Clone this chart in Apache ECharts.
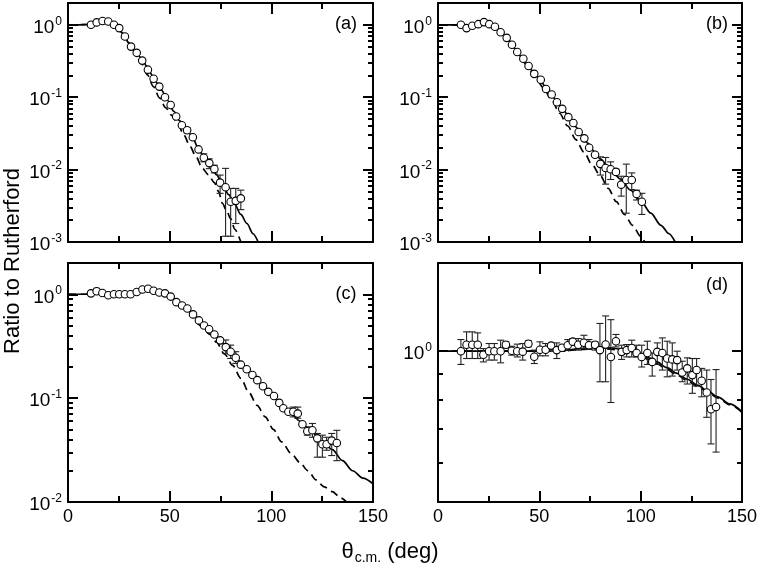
<!DOCTYPE html>
<html>
<head>
<meta charset="utf-8">
<script src="https://cdn.jsdelivr.net/npm/echarts@6/dist/echarts.min.js"></script>
<style>
html, body { margin: 0; padding: 0; background: #fff; }
#chart { width: 763px; height: 573px; }
</style>
</head>
<body>
<div id="chart"></div>
<script>
// panel (a)
var thetaA = [11.3,14.1,17.0,19.8,22.6,25.2,28.0,31.0,33.8,36.5,39.3,42.1,44.9,47.7,50.5,53.2,56.0,58.6,61.4,64.2,66.8,69.5,72.0,74.8,77.5,80.0,82.5,85.0];
var ratioA = [1.0,1.08,1.13,1.11,1.0,0.90,0.69,0.50,0.41,0.32,0.24,0.18,0.14,0.10,0.078,0.054,0.041,0.035,0.028,0.019,0.0146,0.0123,0.0102,0.0066,0.0057,0.0036,0.0037,0.0040];
var errThetaA = [58.6,66.8,69.5,72.0,74.8,77.5,80.0,82.5,85.0];
var errLoA = [0.032,0.0128,0.0103,0.009,0.0047,0.0012,0.0012,0.0018,0.0028];
var errHiA = [0.038,0.0165,0.0141,0.0115,0.0084,0.0104,0.0055,0.0055,0.0052];
var solidThetaA = [0,5,10,13,16,18,20,22,24,27,30,34,37,40,43,46,49,52,55,58,61,64,67,70,73,76,79,82,85,88,91,93.5];
var solidA = [1.0,1.0,1.01,1.06,1.12,1.14,1.12,1.06,0.96,0.76,0.56,0.40,0.31,0.225,0.165,0.125,0.09,0.064,0.047,0.037,0.029,0.02,0.0148,0.0115,0.0085,0.0062,0.0045,0.0033,0.0024,0.0018,0.0013,0.001];
var dashedThetaA = [0,5,10,13,16,18,20,22,24,27,30,33,36,39,42,45,48,51,54,57,60,63,66,69,72,74,76,78,80,82,85];
var dashedA = [1.0,1.0,1.01,1.06,1.12,1.14,1.12,1.06,0.96,0.76,0.56,0.42,0.30,0.205,0.14,0.098,0.072,0.056,0.043,0.03,0.021,0.015,0.0105,0.0085,0.0066,0.005,0.0034,0.0027,0.0021,0.0015,0.001];

// panel (b)
var thetaB = [11.3,14.1,16.9,19.9,22.7,25.3,28.1,30.9,33.9,36.5,39.1,42.1,44.7,47.5,50.7,53.3,56.1,58.7,61.3,64.3,66.8,69.4,72.2,74.6,77.5,80.1,82.7,85.2,87.8,90.4,92.9,95.6,98.0,100.6];
var ratioB = [1.0,0.90,0.97,1.02,1.09,1.02,0.94,0.79,0.66,0.53,0.42,0.34,0.27,0.21,0.174,0.13,0.109,0.085,0.069,0.053,0.044,0.033,0.027,0.020,0.016,0.012,0.0105,0.0101,0.0093,0.0062,0.0072,0.0072,0.0046,0.0036];
var errThetaB = [80.1,82.7,85.2,87.8,90.4,92.9,95.6,98.0,100.6];
var errLoB = [0.0084,0.0063,0.0073,0.0086,0.0043,0.0025,0.0053,0.0038,0.0024];
var errHiB = [0.015,0.0147,0.0128,0.0101,0.0081,0.0119,0.009,0.0052,0.0047];
var solidThetaB = [0,8,11,14,17,20,23,26,29,32,35,38,41,44,47,50,53,56,59,62,65,68,71,74,77,80,85,90,95,100,105,110,114,117];
var solidB = [1.0,1.0,0.98,0.92,0.96,1.03,1.09,1.01,0.9,0.74,0.61,0.47,0.36,0.29,0.225,0.18,0.14,0.108,0.084,0.066,0.051,0.039,0.030,0.023,0.0178,0.0141,0.0102,0.0074,0.0052,0.0037,0.0025,0.0017,0.0013,0.001];
var dashedThetaB = [0,8,11,14,17,20,23,26,29,32,34,37,40,44,48,52,56,60,64,68,72,76,80,84,88,92,96,100,102];
var dashedB = [1.0,1.0,0.98,0.92,0.96,1.03,1.09,1.01,0.9,0.74,0.66,0.51,0.385,0.27,0.19,0.135,0.092,0.06,0.04,0.026,0.0175,0.0117,0.0083,0.0055,0.0036,0.0024,0.0017,0.0012,0.001];

// panel (c)
var thetaC = [11.3,14.1,16.9,19.8,22.6,25.2,28.0,30.8,33.8,36.6,39.4,42.1,44.9,47.7,50.5,53.3,56.1,58.7,61.5,64.4,66.9,69.4,72.0,74.8,77.6,80.0,82.5,85.0,87.9,90.7,93.1,95.9,98.5,101.3,103.9,105.9,108.4,110.8,113.0,115.3,117.7,120.2,122.6,125.1,127.2,129.7,132.2];
var ratioC = [1.02,1.07,1.03,0.98,1.0,1.0,1.0,1.0,1.05,1.11,1.13,1.08,1.04,1.02,0.95,0.84,0.78,0.73,0.64,0.56,0.50,0.46,0.41,0.36,0.31,0.28,0.245,0.21,0.19,0.167,0.149,0.13,0.115,0.105,0.09,0.08,0.074,0.074,0.071,0.056,0.048,0.049,0.041,0.036,0.036,0.039,0.037];
var errThetaC = [14.1,16.9,77.6,80.0,82.5,110.8,113.0,117.7,120.2,122.6,125.1,127.2,129.7,132.2];
var errLoC = [1.0,0.99,0.27,0.241,0.216,0.066,0.064,0.044,0.042,0.027,0.027,0.0315,0.028,0.025];
var errHiC = [1.14,1.08,0.363,0.324,0.28,0.082,0.082,0.053,0.057,0.0457,0.044,0.042,0.0457,0.049];
var solidThetaC = [0,10,13,16,19,22,26,30,33,36,39,42,45,48,51,54,57,60,63,66,69,72,75,78,81,84,87,90,93,96,99,102,105,108,111,114,117,120,125,130,135,140,145,150];
var solidC = [1.0,1.0,1.02,1.03,1.0,0.99,1.0,1.0,1.03,1.1,1.13,1.09,1.04,1.0,0.94,0.85,0.76,0.68,0.6,0.53,0.465,0.41,0.355,0.31,0.265,0.228,0.197,0.17,0.148,0.128,0.112,0.098,0.086,0.076,0.067,0.06,0.053,0.047,0.038,0.032,0.025,0.02,0.017,0.015];
var dashedThetaC = [0,10,13,16,19,22,26,30,33,36,39,42,45,48,51,54,57,60,65,70,73,77,81,85,89,93,97,101,105,110,114,118,122,126,130,134,137];
var dashedC = [1.0,1.0,1.02,1.03,1.0,0.99,1.0,1.0,1.03,1.1,1.13,1.09,1.04,1.0,0.94,0.85,0.76,0.66,0.50,0.41,0.345,0.265,0.207,0.155,0.113,0.085,0.066,0.05,0.038,0.029,0.024,0.020,0.0163,0.014,0.0126,0.011,0.01];

// panel (d)
var thetaD = [11.3,14.1,16.9,19.6,22.4,25.2,27.8,30.9,33.5,36.4,39.1,41.8,44.6,47.5,50.3,53.1,55.8,58.6,61.2,64.0,66.5,69.2,72.0,74.5,77.5,79.9,82.7,85.3,87.8,90.6,93.1,95.6,98.0,100.5,103.3,105.7,108.2,110.7,113.1,115.6,118.0,120.5,123.0,125.5,127.6,130.1,132.6,134.7,137.2];
var ratioD = [1.0,1.03,1.03,1.03,0.984,1.0,1.0,1.0,1.03,1.002,1.0,0.998,1.035,0.975,1.007,1.007,1.026,1.005,1.016,1.028,1.045,1.03,1.04,1.028,1.03,1.005,1.031,0.974,1.047,0.997,1.005,1.015,0.992,0.974,0.992,0.952,0.997,0.992,0.967,0.963,0.96,0.907,0.924,0.896,0.917,0.873,0.827,0.766,0.774];
var errLoD = [0.941,0.967,0.967,0.967,0.952,0.96,0.96,0.948,1.017,0.982,0.974,0.96,1.02,0.945,0.979,0.979,1.012,0.967,0.999,1.005,1.028,1.005,1.012,1.008,1.005,0.869,0.869,0.79,1.02,0.963,0.974,0.974,0.974,0.93,0.941,0.892,0.941,0.917,0.889,0.892,0.917,0.869,0.86,0.824,0.852,0.811,0.738,0.653,0.629];
var errHiD = [1.055,1.093,1.093,1.088,1.012,1.036,1.036,1.052,1.044,1.023,1.033,1.036,1.049,1.005,1.044,1.036,1.036,1.039,1.028,1.055,1.06,1.06,1.076,1.055,1.044,1.136,1.176,1.156,1.08,1.028,1.031,1.052,1.028,1.028,1.047,0.992,1.039,1.063,1.047,1.039,1.0,0.955,0.97,0.967,0.967,0.924,0.917,0.878,0.919];
var solidThetaD = [0,20,40,55,62,70,78,85,90,95,100,104,108,113,118,123,128,133,138,144,150];
var solidD = [1.0,1.0,1.0,1.0,1.004,1.012,1.016,1.015,1.01,1.0,0.985,0.97,0.952,0.927,0.903,0.879,0.856,0.833,0.811,0.785,0.757];
var dashedD = [1.0,1.0,1.0,1.0,1.002,1.008,1.012,1.01,1.004,0.993,0.978,0.962,0.944,0.92,0.896,0.873,0.85,0.828,0.807,0.782,0.755];

// axis ranges and labelled decades
var yRangeA = [0.001, 2], yRangeB = [0.001, 2], yRangeC = [0.01, 2], yRangeD = [0.5, 1.5];
var decadesA = [0.001, 0.01, 0.1, 1];
var decadesB = [0.001, 0.01, 0.1, 1];
var decadesC = [0.01, 0.1, 1];
var decadesD = [1];
var thetaRange = [0, 150];

var FONT = '"Liberation Sans", Arial, Helvetica, sans-serif';

function lg(v) { return Math.log10(v); }
function pairs(xs, ys) { return xs.map(function (x, i) { return [x, lg(ys[i])]; }); }
function triples(xs, lo, hi) { return xs.map(function (x, i) { return [x, lg(lo[i]), lg(hi[i])]; }); }
function minorTicks(range) {
    var lo = lg(range[0]), hi = lg(range[1]), out = [];
    for (var e = Math.floor(lo); e <= Math.floor(hi); e++) {
        for (var k = 2; k <= 9; k++) {
            var v = e + lg(k);
            if (v > lo + 1e-9 && v < hi - 1e-9) out.push(v);
        }
    }
    return out;
}

var panels = [
    { tag: '(a)', left: 68,  top: 3,   width: 305, height: 239, xLabels: false, tagPos: [346, 24],
      yRange: yRangeA, decades: decadesA, theta: thetaA, ratio: ratioA,
      errTheta: errThetaA, errLo: errLoA, errHi: errHiA,
      solidTheta: solidThetaA, solid: solidA, dashedTheta: dashedThetaA, dashed: dashedA },
    { tag: '(b)', left: 438, top: 3,   width: 304, height: 239, xLabels: false, tagPos: [717, 24],
      yRange: yRangeB, decades: decadesB, theta: thetaB, ratio: ratioB,
      errTheta: errThetaB, errLo: errLoB, errHi: errHiB,
      solidTheta: solidThetaB, solid: solidB, dashedTheta: dashedThetaB, dashed: dashedB },
    { tag: '(c)', left: 68,  top: 263, width: 305, height: 239, xLabels: true, tagPos: [346, 294],
      yRange: yRangeC, decades: decadesC, theta: thetaC, ratio: ratioC,
      errTheta: errThetaC, errLo: errLoC, errHi: errHiC,
      solidTheta: solidThetaC, solid: solidC, dashedTheta: dashedThetaC, dashed: dashedC },
    { tag: '(d)', left: 438, top: 263, width: 304, height: 239, xLabels: true, tagPos: [717, 285],
      yRange: yRangeD, decades: decadesD, theta: thetaD, ratio: ratioD,
      errTheta: thetaD, errLo: errLoD, errHi: errHiD,
      solidTheta: solidThetaD, solid: solidD, dashedTheta: solidThetaD, dashed: dashedD }
];

var black = '#000';
var grids = [], xAxes = [], yAxes = [], series = [], graphics = [];

function errorBar(params, api) {
    var x = api.value(0);
    var p1 = api.coord([x, api.value(1)]);
    var p2 = api.coord([x, api.value(2)]);
    var cap = 3.5;
    var st = { stroke: '#222', lineWidth: 1.1 };
    return {
        type: 'group',
        children: [
            { type: 'line', shape: { x1: p1[0], y1: p1[1], x2: p2[0], y2: p2[1] }, style: st },
            { type: 'line', shape: { x1: p1[0] - cap, y1: p1[1], x2: p1[0] + cap, y2: p1[1] }, style: st },
            { type: 'line', shape: { x1: p2[0] - cap, y1: p2[1], x2: p2[0] + cap, y2: p2[1] }, style: st }
        ]
    };
}

panels.forEach(function (p, i) {
    grids.push({ left: p.left, top: p.top, width: p.width, height: p.height, show: false, outerBoundsMode: 'none' });

    ['bottom', 'top'].forEach(function (pos) {
        xAxes.push({
            gridIndex: i, type: 'value', position: pos,
            min: thetaRange[0], max: thetaRange[1], interval: 50,
            axisLine: { show: true, onZero: false, lineStyle: { color: black, width: 2 } },
            axisTick: { show: true, inside: true, length: 11, lineStyle: { color: black, width: 2 } },
            minorTick: { show: true, splitNumber: 2, length: 6, lineStyle: { color: black, width: 2 } },
            axisLabel: { show: pos === 'bottom' && p.xLabels, color: black, fontSize: 18, fontFamily: FONT, margin: 6 },
            splitLine: { show: false }
        });
    });

    var yMin = lg(p.yRange[0]), yMax = lg(p.yRange[1]);
    var majors = p.decades.map(lg);
    var minors = minorTicks(p.yRange);
    ['left', 'right'].forEach(function (pos) {
        yAxes.push({
            gridIndex: i, type: 'value', position: pos, min: yMin, max: yMax,
            axisLine: { show: true, onZero: false, lineStyle: { color: black, width: 2 } },
            axisTick: { show: true, inside: true, length: 10, customValues: majors, lineStyle: { color: black, width: 2 } },
            axisLabel: {
                show: pos === 'left', customValues: majors, margin: 6,
                formatter: function (v) { return '{b|10}{s|' + Math.round(v) + '}'; },
                rich: {
                    b: { fontSize: 19, fontFamily: FONT, color: black, padding: [6, 0, 0, 0] },
                    s: { fontSize: 12, fontFamily: FONT, color: black, verticalAlign: 'top', padding: [3, 0, 0, 1] }
                }
            },
            splitLine: { show: false }
        });
        yAxes.push({
            gridIndex: i, type: 'value', position: pos, min: yMin, max: yMax,
            axisLine: { show: false, onZero: false },
            axisTick: { show: true, inside: true, length: 5, customValues: minors, lineStyle: { color: black, width: 2 } },
            axisLabel: { show: false },
            splitLine: { show: false }
        });
    });

    var xi = 2 * i, yi = 4 * i;
    series.push({
        type: 'line', xAxisIndex: xi, yAxisIndex: yi, data: pairs(p.dashedTheta, p.dashed),
        showSymbol: false, smooth: 0.3, smoothMonotone: 'x', silent: true, z: 2,
        lineStyle: { color: black, width: 1.7, type: [8, 5] }
    });
    series.push({
        type: 'line', xAxisIndex: xi, yAxisIndex: yi, data: pairs(p.solidTheta, p.solid),
        showSymbol: false, smooth: 0.3, smoothMonotone: 'x', silent: true, z: 3,
        lineStyle: { color: black, width: 1.7 }
    });
    series.push({
        type: 'custom', xAxisIndex: xi, yAxisIndex: yi, data: triples(p.errTheta, p.errLo, p.errHi),
        renderItem: errorBar, encode: { x: 0, y: [1, 2] }, clip: true, silent: true, z: 4
    });
    series.push({
        type: 'scatter', xAxisIndex: xi, yAxisIndex: yi, data: pairs(p.theta, p.ratio),
        symbol: 'circle', symbolSize: 7.5, silent: true, z: 5,
        itemStyle: { color: '#fff', opacity: 1, borderColor: black, borderWidth: 1.1 }
    });

    graphics.push({
        type: 'text', x: p.tagPos[0], y: p.tagPos[1], z: 10,
        style: { text: p.tag, font: '18px ' + FONT, fill: black, textAlign: 'center', textVerticalAlign: 'middle' }
    });
});

graphics.push({
    type: 'text', x: 13, y: 261, rotation: Math.PI / 2,
    style: { text: 'Ratio to Rutherford', font: '22px ' + FONT, fill: black, textAlign: 'center', textVerticalAlign: 'middle' }
});
graphics.push({
    type: 'text', x: 390, y: 552,
    style: {
        text: '{t|θ}{u|c.m.}{t| (deg)}', textAlign: 'center', textVerticalAlign: 'middle',
        rich: {
            t: { fontSize: 22, fontFamily: FONT, fill: black, color: black, lineHeight: 26 },
            u: { fontSize: 14, fontFamily: FONT, fill: black, color: black, verticalAlign: 'bottom', padding: [0, 0, 0, 1] }
        }
    }
});

var chart = echarts.init(document.getElementById('chart'), null, { renderer: 'canvas' });
chart.setOption({
    animation: false,
    backgroundColor: '#fff',
    grid: grids,
    xAxis: xAxes,
    yAxis: yAxes,
    series: series,
    graphic: graphics
});
</script>
</body>
</html>
